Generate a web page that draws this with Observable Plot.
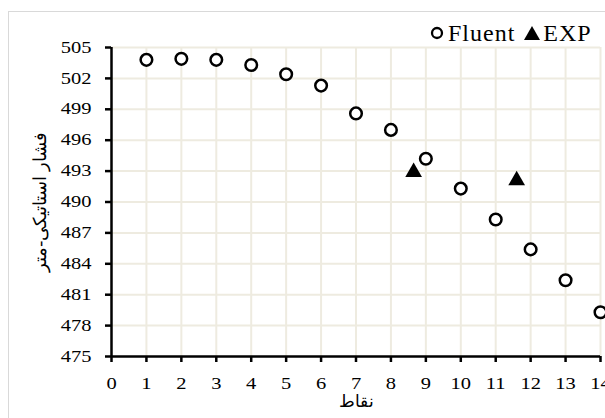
<!DOCTYPE html>
<html><head><meta charset="utf-8">
<script src="https://cdn.jsdelivr.net/npm/d3@7"></script>
<script src="https://cdn.jsdelivr.net/npm/@observablehq/plot@0.6"></script>
<style>
html,body{margin:0;padding:0;background:#fff;overflow:hidden;width:605px;height:418px}
#wrap{position:relative;width:605px;height:418px;overflow:hidden}
#frame{position:absolute;left:8px;top:11px;width:700px;height:500px;border:1px solid #d9d9d9;box-sizing:border-box}
#chart{position:absolute;left:0;top:0}
#legend{position:absolute;left:429px;top:20px;display:flex;align-items:center;font-family:"Liberation Serif","Times New Roman",serif;font-size:24px;line-height:26px;color:#000;white-space:nowrap}
#legend span{letter-spacing:1px}
</style></head>
<body><div id="wrap"><div id="frame"></div><div id="chart"></div>
<div id="legend"><svg width="16" height="16"><circle cx="8" cy="8" r="5" fill="#fff" stroke="#000" stroke-width="2.3"/></svg><span style="margin-left:3px">Fluent</span><svg width="18" height="16" style="margin-left:8px"><path d="M9,1 L17,15 L1,15 Z" fill="#000"/></svg><span style="margin-left:2px">EXP</span></div>
</div>
<script>
const points = [1,2,3,4,5,6,7,8,9,10,11,12,13,14];
const fluent = [503.8,503.9,503.8,503.3,502.4,501.3,498.6,497.0,494.2,491.3,488.3,485.4,482.4,479.3];
const expX = [8.65, 11.6];
const expY = [492.9, 492.1];
const xTicks = [0,1,2,3,4,5,6,7,8,9,10,11,12,13,14];
const yTicks = [475,478,481,484,487,490,493,496,499,502,505];
const xTitle = "نقاط";
const yTitle = "فشار استاتیکی-متر";

const fluentData = points.map((p,i)=>({x:p,y:fluent[i]}));
const expData = expX.map((p,i)=>({x:p,y:expY[i]}));
const grid = "#EEEBE0";

const plot = Plot.plot({
  width:605, height:418,
  marginLeft:111, marginRight:5, marginTop:47, marginBottom:62,
  x:{domain:[0,14]},
  y:{domain:[475,505]},
  style:{fontFamily:"'Liberation Serif','Times New Roman',serif", fontSize:"16px", color:"#000", background:"transparent", overflow:"visible"},
  marks:[
    Plot.gridX(xTicks.slice(1), {stroke:grid, strokeOpacity:1, strokeWidth:2}),
    Plot.gridY(yTicks.slice(1), {stroke:grid, strokeOpacity:1, strokeWidth:2}),
    Plot.ruleX([0], {stroke:"#000", strokeWidth:2.5}),
    Plot.ruleY([475], {stroke:"#000", strokeWidth:2.5}),
    Plot.axisX(xTicks, {tickSize:6, tickPadding:15, strokeWidth:2.5, label:xTitle, labelArrow:"none", labelAnchor:"center", labelOffset:50, fontSize:17}),
    Plot.axisY(yTicks, {tickSize:6, tickPadding:14, strokeWidth:2.5, label:yTitle, labelArrow:"none", labelAnchor:"center", labelOffset:78, fontSize:18}),
    Plot.dot(fluentData, {x:"x", y:"y", r:5.8, stroke:"#000", strokeWidth:2.5, fill:"#fff"}),
    Plot.dot(expData, {x:"x", y:"y", symbol:"triangle", r:6.2, fill:"#000", stroke:"none"})
  ]
});
document.getElementById("chart").appendChild(plot);
d3.select(plot).selectAll('[aria-label="x-axis tick label"] text, [aria-label="y-axis tick label"] text').attr("font-size", 16).each(function(){
  const len = this.getComputedTextLength();
  this.setAttribute("textLength", (len*1.28).toFixed(2));
  this.setAttribute("lengthAdjust", "spacingAndGlyphs");
});
</script></body></html>
